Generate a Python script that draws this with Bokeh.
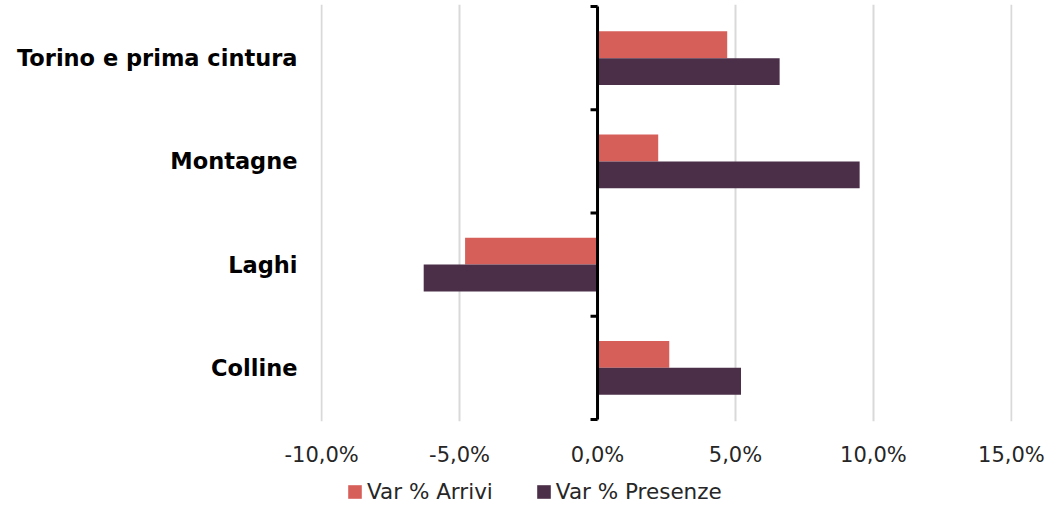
import math
from bokeh.plotting import figure
from bokeh.layouts import column
from bokeh.models import (ColumnDataSource, FactorRange, Range1d, FixedTicker,
                          CustomJSTickFormatter, Legend, LegendItem)
from bokeh.transform import dodge
from bokeh.embed import file_html
from bokeh.resources import INLINE

# ---- data ----
categories = ["Torino e prima cintura", "Montagne", "Laghi", "Colline"]
arrivi = [4.7, 2.2, -4.8, 2.6]
presenze = [6.6, 9.5, -6.3, 5.2]
x_ticks = [-10, -5, 0, 5, 10, 15]
series_names = ["Var % Arrivi", "Var % Presenze"]

RED = "#D75F5A"
PURPLE = "#4B2E48"
FONT = "DejaVu Sans"

factors = list(reversed(categories))

p = figure(width=1048, height=471, output_backend="svg", toolbar_location=None,
           y_range=FactorRange(factors=factors, range_padding=0.01),
           x_range=Range1d(x_ticks[0] - 0.04, x_ticks[-1] + 0.04),
           min_border_left=320, min_border_right=36, min_border_top=4,
           min_border_bottom=50)
p.outline_line_color = None
p.background_fill_color = "white"

source = ColumnDataSource(dict(cat=categories, arrivi=arrivi, presenze=presenze))

p.hbar(y=dodge("cat", 0.13, range=p.y_range), right="arrivi", height=0.26,
       source=source, fill_color=RED, line_color=None)
p.hbar(y=dodge("cat", -0.13, range=p.y_range), right="presenze", height=0.26,
       source=source, fill_color=PURPLE, line_color=None)

# vertical category axis at zero
axis_src = ColumnDataSource(dict(x0=[0], y0=[(factors[0], -0.5)], x1=[0], y1=[(factors[-1], 0.5)]))
p.segment(x0="x0", y0="y0", x1="x1", y1="y1", source=axis_src,
          line_color="black", line_width=3)
tick_src = ColumnDataSource(dict(x=[0] * (len(factors) + 1),
                                 y=[(f, -0.5) for f in factors] + [(factors[-1], 0.5)]))
p.ray(x="x", y="y", source=tick_src, length=7, length_units="screen", angle=math.pi,
      line_color="black", line_width=3)

# x axis
p.xaxis.ticker = FixedTicker(ticks=x_ticks)
p.xaxis.formatter = CustomJSTickFormatter(
    code="return tick.toFixed(1).replace('.', ',') + '%';")
p.xaxis.axis_line_color = None
p.xaxis.major_tick_line_color = None
p.xaxis.minor_tick_line_color = None
p.xaxis.major_label_standoff = 15
p.xaxis.major_label_text_font = FONT
p.xaxis.major_label_text_font_size = "21px"
p.xaxis.major_label_text_color = "#262626"

p.xgrid.ticker = FixedTicker(ticks=x_ticks)
p.xgrid.grid_line_color = "#D9D9D9"
p.xgrid.grid_line_width = 2
p.ygrid.grid_line_color = None

# y axis (category labels)
p.yaxis.axis_line_color = None
p.yaxis.major_tick_line_color = None
p.yaxis.minor_tick_line_color = None
p.yaxis.major_label_standoff = 17
p.yaxis.major_label_text_font = FONT
p.yaxis.major_label_text_font_style = "bold"
p.yaxis.major_label_text_font_size = "22.5px"
p.yaxis.major_label_text_color = "black"

# legend strip (separate small figure below the chart)
lf = figure(width=1048, height=33, output_backend="svg", toolbar_location=None,
            min_border=0, x_axis_type=None, y_axis_type=None,
            x_range=Range1d(0, 1), y_range=Range1d(0, 1))
lf.outline_line_color = None
lf.background_fill_color = "white"
d1 = lf.hbar(y="arrivi", right="arrivi", height=1, source=source,
             fill_color=RED, line_color=None, visible=False)
d2 = lf.hbar(y="presenze", right="presenze", height=1, source=source,
             fill_color=PURPLE, line_color=None, visible=False)
lg = Legend(items=[LegendItem(label=series_names[0], renderers=[d1]),
                   LegendItem(label=series_names[1], renderers=[d2])],
            orientation="horizontal", location=(26, 0),
            glyph_width=17, glyph_height=17, label_standoff=4, spacing=42,
            padding=0, margin=0, border_line_color=None, background_fill_alpha=0,
            inactive_fill_alpha=0,
            label_text_font=FONT, label_text_font_size="21.5px",
            label_text_color="#262626")
lf.add_layout(lg)

open("out.html", "w").write(file_html(column(p, lf, spacing=0), INLINE))
